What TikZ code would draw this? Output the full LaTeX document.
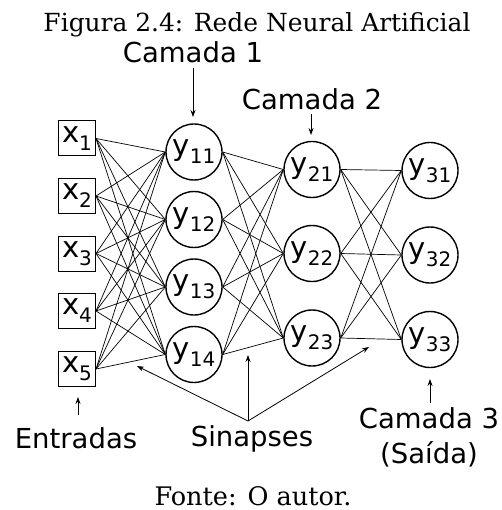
\documentclass[tikz,border=0pt]{standalone}
\usepackage{fontspec}
\setmainfont{DejaVu Serif}
\setsansfont{DejaVu Sans}
\usetikzlibrary{arrows.meta}
\newcommand{\lowsub}[1]{\raisebox{-8pt}{\fontsize{20}{20}\selectfont #1}}
\begin{document}
\begin{tikzpicture}[x=1pt,y=-1pt,
  inbox/.style={draw,line width=1pt,minimum width=37pt,minimum height=35pt,inner sep=0pt,font=\sffamily\fontsize{29}{29}\selectfont},
  neuron/.style={draw,circle,line width=1.4pt,minimum size=56pt,inner sep=0pt,font=\sffamily\fontsize{29}{29}\selectfont},
  syn/.style={line width=0.7pt},
  lbl/.style={anchor=base,inner sep=0pt,font=\sffamily\fontsize{27.5}{27.5}\selectfont},
  captxt/.style={anchor=base,inner sep=0pt,font=\rmfamily\fontsize{25}{25}\selectfont},
  pointer/.style={line width=0.8pt,-{Stealth[length=7pt,width=5pt]}}]
\useasboundingbox (0,0) rectangle (501,510);
% caption
\node[captxt] (title) at (257,32) {\resizebox{427pt}{!}{Figura 2.4: Rede Neural Artificial}};
\node[captxt] (fonte) at (253,505) {\resizebox{197pt}{!}{Fonte: O autor.}};
% inputs
\foreach \i/\yy in {1/138.5,2/196,3/253.5,4/311,5/369}
  \node[inbox] (x\i) at (77,\yy) {x\lowsub{\i}};
% layer 1
\foreach \j/\yy in {1/152,2/219.5,3/287,4/354.5}
  \node[neuron] (a\j) at (194,\yy) {y\lowsub{1\j}};
% layer 2
\foreach \j/\yy in {1/169.5,2/253.5,3/338}
  \node[neuron] (b\j) at (312,\yy) {y\lowsub{2\j}};
% layer 3
\foreach \j/\yy in {1/170.5,2/255,3/339.5}
  \node[neuron] (c\j) at (430,\yy) {y\lowsub{3\j}};
% synapses
\foreach \i in {1,...,5}
  \foreach \j in {1,...,4}
    \draw[syn] (x\i.east) -- (a\j.west);
\foreach \i in {1,...,4}
  \foreach \j in {1,...,3}
    \draw[syn] (a\i.east) -- (b\j.west);
\foreach \i in {1,...,3}
  \foreach \j in {1,...,3}
    \draw[syn] (b\i.east) -- (c\j.west);
% labels
\node[lbl] (cam1) at (193,63) {Camada 1};
\node[lbl] (cam2) at (312,110) {Camada 2};
\node[lbl] (entr) at (76,448) {Entradas};
\node[lbl] (sinap) at (252,446) {Sinapses};
\node[lbl] (cam3) at (429,428) {Camada 3};
\node[lbl] (said) at (429,463) {(Saída)};
% pointer arrows
\coordinate (p1s) at (193,68);  \coordinate (p1e) at (193,117);
\coordinate (p2s) at (311,114); \coordinate (p2e) at (311,135);
\coordinate (pes) at (78,415);  \coordinate (pee) at (78,397);
\coordinate (p3s) at (430,403); \coordinate (p3e) at (430,379);
\coordinate (ss) at (248,421);
\coordinate (sa) at (137,366); \coordinate (sb) at (248,355); \coordinate (sc) at (369,347);
\draw[pointer] (p1s) -- (p1e);
\draw[pointer] (p2s) -- (p2e);
\draw[pointer] (pes) -- (pee);
\draw[pointer] (p3s) -- (p3e);
\draw[pointer] (ss) -- (sa);
\draw[pointer] (ss) -- (sb);
\draw[pointer] (ss) -- (sc);
\end{tikzpicture}
\end{document}
